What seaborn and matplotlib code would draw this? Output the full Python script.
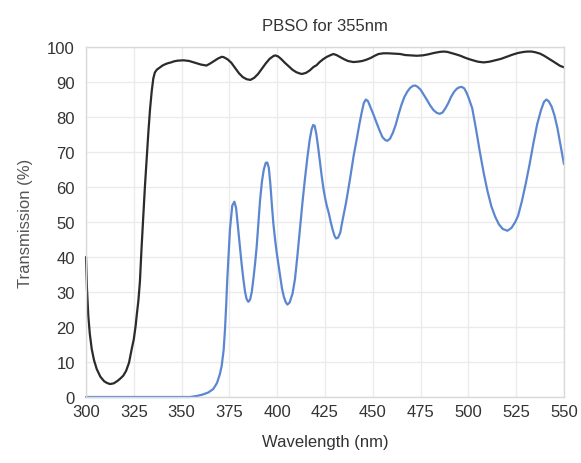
import matplotlib
matplotlib.use("Agg")
import matplotlib.pyplot as plt
import seaborn as sns
import pandas as pd

# ---- data ----
blue_x = [300, 354.4, 358, 361, 364, 366.6, 368.5, 370, 371, 372, 372.7, 373.3, 373.9, 374.6, 375.3, 376, 376.5, 377.6,
          378.5, 379.5, 380.5, 381.4, 382.3, 383.2, 384, 384.9, 385.8, 386.7, 387.6, 388.5, 389.3, 390.2, 391, 392, 393, 394,
          394.8, 395.6, 396.4, 397.2, 398, 399, 399.8, 400.6, 401.5, 402.5, 403.5, 404.4, 405.3, 406.5, 408, 409.3, 410.5,
          411.9, 413.2, 414.5, 415.8, 417, 418, 418.8, 419.6, 420.5, 421.5, 422.4, 423.3, 424.2, 425, 425.9, 427, 428, 429,
          430, 430.8, 431.8, 433, 434, 436, 438, 440, 441.6, 443, 444.2, 445.3, 446.4, 447.5, 449, 450.5, 452, 453.5, 455,
          456.5, 457.6, 459, 460.5, 462, 463.5, 465, 466.5, 468, 469.5, 471, 472.2, 473.5, 475, 476.5, 478.2, 480, 481.7,
          483.4, 485, 486.5, 488, 489.5, 491, 492.5, 494, 495.3, 496.5, 497.8, 499, 500.3, 502, 504, 506, 508, 510, 512,
          514, 516, 518, 520.4, 522.5, 524.5, 526, 528, 530, 532, 534, 536, 538, 539.5, 540.8, 542, 543.5, 545, 546.5,
          548, 549, 550]
blue_y = [0, 0, 0.3, 0.7, 1.3, 2.3, 4, 6.5, 9, 13.5, 19.4, 26, 33.7, 41, 48, 52, 54.7, 55.8,
          54, 48.5, 43.2, 38, 33.7, 30, 28, 27.2, 27.8, 30, 34, 38.5, 43.2, 50, 56, 61.5, 65, 66.9,
          67, 65.5, 61, 55, 49.5, 44.5, 41, 38, 34.5, 31, 28.6, 27.2, 26.4, 27, 29.5, 33.7, 40,
          48, 55.5, 62.3, 68.5, 73.5, 76.5, 77.7, 77.5, 75, 71, 67, 63, 59.5, 57, 54.7, 52.5, 50, 47.8,
          46, 45.3, 45.5, 47, 50, 55.5, 62, 69, 73.7, 78, 81.3, 84, 85, 84.5, 82.5, 80.5, 78.3, 76.2, 74.3,
          73.4, 73.2, 73.8, 75.5, 77.8, 80.8, 83.5, 85.7, 87.2, 88.3, 88.9, 89, 88.6, 87.8, 86.5, 85, 83.3, 82,
          81.2, 80.9, 81.3, 82.5, 84, 85.8, 87.2, 88.1, 88.5, 88.6, 88.2, 87, 85.2, 82.5, 76.5, 70, 64, 58.8, 54.5,
          51.5, 49.3, 48, 47.5, 48.3, 50, 51.8, 56, 61, 66.5, 72.5, 78, 82, 84.3, 85, 84.5, 83, 80.5, 77,
          72.5, 69.5, 66.5]

black_x = [300, 300.5, 301.2, 302, 303, 304.2, 305.6, 307.5, 309.5, 311, 312.6, 314.5, 316.5, 318, 319.5, 321, 322.5,
           323.9, 325, 326, 326.5, 327.4, 328.2, 329, 330, 330.8, 331.7, 332.6, 333.5, 334.4, 335.2, 336, 337, 338.7,
           340, 341.5, 343, 344.5, 346, 348, 351, 354, 357, 360, 363, 365, 367, 369, 371, 372, 374, 376, 378, 380,
           382, 384, 386, 388, 390, 392, 394, 396, 398, 399, 400.5, 402, 404, 406, 408, 410, 412, 413, 415, 417, 419,
           420.6, 422, 424, 426, 428, 429.4, 431, 433, 435, 437, 439.8, 442, 444.5, 446.8, 449, 451, 453, 455.5, 458,
           461, 464.3, 467, 470, 473, 476, 479, 482, 485, 487, 489, 491, 493.5, 495.8, 498, 500, 503, 505, 508, 511,
           514, 517, 520, 523, 526, 529, 531, 533, 535, 537.5, 539.6, 542, 544, 546, 548, 550]
black_y = [40, 31, 23.2, 18, 13.7, 10.5, 8, 5.8, 4.5, 4, 3.7, 3.9, 4.6, 5.3, 6.1, 7.5, 9.8,
           13.7, 16.5, 20.5, 23.2, 27.5, 33, 42, 52, 60, 68, 75.5, 82.3, 87.5, 91, 92.7, 93.5, 94.2,
           94.7, 95.1, 95.4, 95.6, 95.9, 96.1, 96.2, 96, 95.5, 95, 94.7, 95.3, 96, 96.7, 97.2, 97.1, 96.5, 95.5, 94, 92.5,
           91.4, 90.8, 90.6, 91.2, 92.3, 93.8, 95.3, 96.6, 97.4, 97.6, 97.3, 96.6, 95.5, 94.5, 93.5, 92.8, 92.4, 92.3, 92.6, 93.3, 94.3,
           94.8, 95.6, 96.5, 97.2, 97.7, 98, 97.7, 97.1, 96.5, 96, 95.7, 95.8, 96.0, 96.4, 96.9, 97.5, 98, 98.2, 98.2,
           98.1, 98, 97.7, 97.6, 97.5, 97.6, 97.9, 98.3, 98.6, 98.7, 98.6, 98.3, 97.9, 97.5, 97, 96.6, 96.1, 95.8, 95.6, 95.8,
           96.2, 96.6, 97.2, 97.8, 98.3, 98.6, 98.7, 98.7, 98.5, 98.1, 97.5, 96.7, 96, 95.3, 94.6, 94.2]

x_ticks = [300, 325, 350, 375, 400, 425, 450, 475, 500, 525, 550]
y_ticks = [0, 10, 20, 30, 40, 50, 60, 70, 80, 90, 100]

title = "PBSO for 355nm"
x_label = "Wavelength (nm)"
y_label = "Transmission (%)"

# ---- plotting ----
sns.set_theme(style="whitegrid")
plt.rcParams["font.family"] = ["Liberation Sans", "DejaVu Sans"]

fig = plt.figure(figsize=(5.81, 4.64), dpi=100)
ax = fig.add_axes([86 / 581, 1 - 398 / 464, (564 - 86) / 581, (398 - 48) / 464])

df_black = pd.DataFrame({"x": black_x, "y": black_y})
df_blue = pd.DataFrame({"x": blue_x, "y": blue_y})

sns.lineplot(data=df_black, x="x", y="y", ax=ax, color="#2b2b2b", linewidth=1.6,
             estimator=None, sort=False, clip_on=False)
sns.lineplot(data=df_blue, x="x", y="y", ax=ax, color="#5b87d0", linewidth=1.6,
             estimator=None, sort=False, clip_on=False)

ax.set_xlim(300, 550)
ax.set_ylim(0, 100)
ax.set_xticks(x_ticks)
ax.set_yticks(y_ticks)
ax.grid(True, color="#ebebeb", linewidth=1.0)
for s in ax.spines.values():
    s.set_visible(True)
    s.set_color("#d9d9d9")
    s.set_linewidth(1.0)
ax.tick_params(axis="both", length=0, labelsize=12, labelcolor="#333333")
ax.tick_params(axis="y", pad=8)
ax.tick_params(axis="x", pad=5)
ax.set_xlabel(x_label, fontsize=12, color="#333333", labelpad=11)
ax.set_ylabel(y_label, fontsize=12, color="#555555", labelpad=10)
ax.set_title(title, fontsize=12, color="#333333", pad=12)

fig.savefig("out.png", dpi=100)
